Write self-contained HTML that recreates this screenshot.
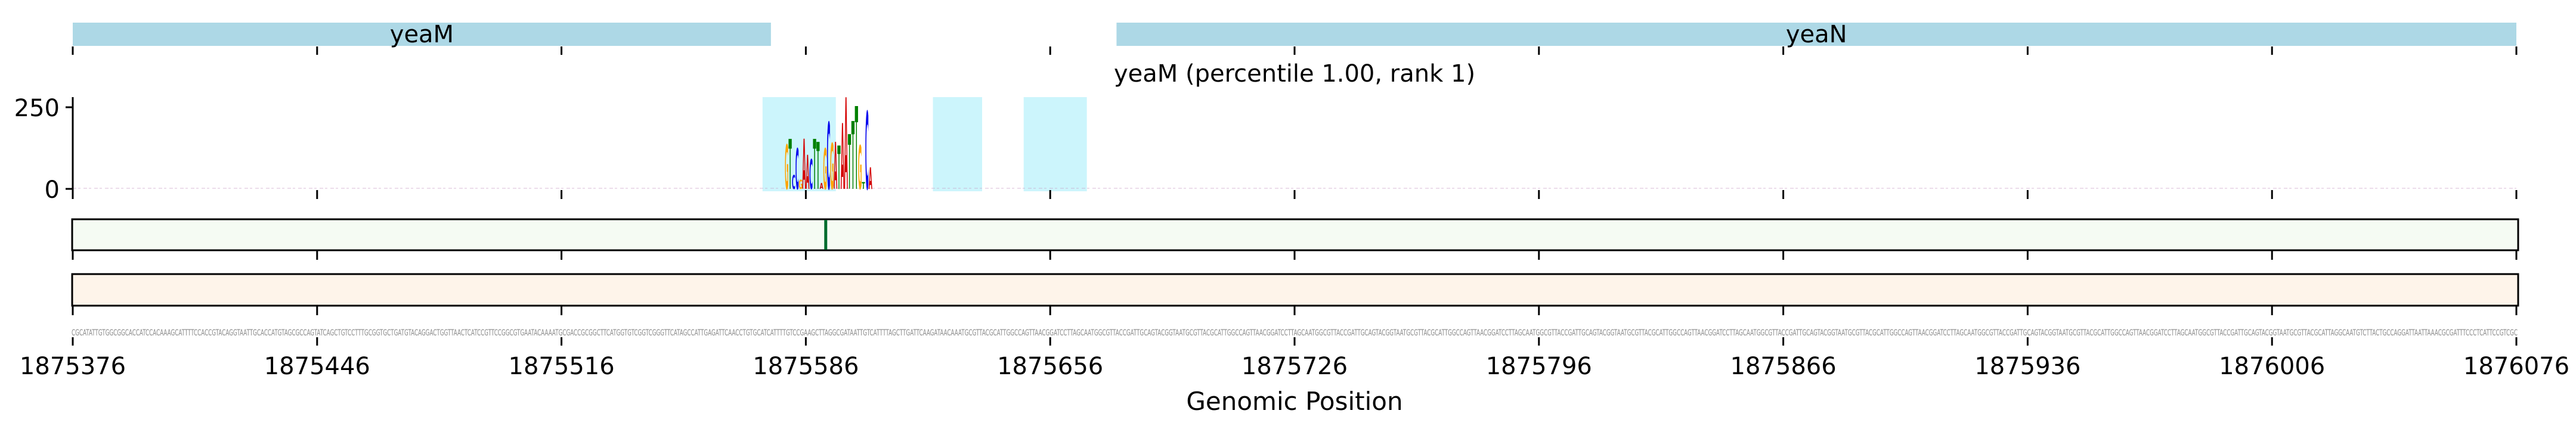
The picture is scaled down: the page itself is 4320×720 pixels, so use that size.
<!DOCTYPE html>
<html><head><meta charset="utf-8"><style>
html,body{margin:0;padding:0;background:#fff;}
svg{display:block;font-family:"DejaVu Sans","Liberation Sans",sans-serif;}
</style></head><body>
<svg id="chart" width="4320" height="720" viewBox="0 0 4320 720" xmlns="http://www.w3.org/2000/svg">
<g id="genes"></g>
<g id="logo"></g>
<g id="tracks"></g>
<g id="axes"></g>
</svg>
<script>
const startPos = 1875376;
const spanBp = 700;
const tickStep = 70;
const geneNames = ["yeaM", "yeaN"];
const geneStarts = [0, 299];
const geneEnds = [200, 700];
const highlightStarts = [197.6, 246.4, 272.4];
const highlightEnds = [218.6, 260.5, 290.5];
const logoPositions = [204,205,206,207,208,209,210,211,212,213,214,215,216,217,218,219,220,221,222,223,224,225,226,227,228];
const logoLetters = ["G","T","C","C","G","A","A","C","T","T","A","G","C","G","A","T","A","A","T","T","T","G","T","C","A"];
const logoHeights = [136,153,43,125,28,153,104,92,153,144,18,125,205,140,144,133,202,281,168,208,254,134,21,238,67];
const yTicks = [0, 250];
const yMax = 281;
const markerBp = 215.7;
const seqStart = "CGCATATTGTGGCGGCACCATCCACAAAGCATTTTCCACCGTACAGGTAATTGCACCATGTAGCGCCAGTATCAGCTGTCCTTTGCGGTGCTGATGTACAGGACTGGTTAACTCATCCGTTCCGGCGTGAATACAAAATGCGACCGCGGCTTCATGGTGTCGGTCGGGTTCATAGCCATTGAGATTCAACCTGTGCATCATTTTGTCCGAAGCTTAGGCGATAATTGTCATTTTAGCTTGATTCAAGATAACAA";
const seqEnd = "TAGGCAATGTCTTACTGCCAGGATTAATTAAACGCGATTTCCCTCATTCCGTCGC";

const NS="http://www.w3.org/2000/svg";
const X0=122, X1=4220;
const xs = bp => X0 + (X1-X0)*bp/spanBp;
const LOGO_TOP=163, LOGO_BASE=317;
const ys = v => LOGO_BASE - (LOGO_BASE-LOGO_TOP)*v/yMax;
function mk(tag, attrs, parent, txt){const e=document.createElementNS(NS,tag);for(const k in attrs)e.setAttribute(k,attrs[k]);if(txt!==undefined)e.textContent=txt;parent.appendChild(e);return e;}
const colors={A:"#d40000",C:"#0000ee",G:"#ffa500",T:"#008000"};

const gG=document.getElementById("genes");
geneNames.forEach((n,i)=>{
  const r=mk("rect",{x:xs(geneStarts[i]),y:38,width:xs(geneEnds[i])-xs(geneStarts[i]),height:39,fill:"#add8e6"},gG);
  
  
  const t=mk("text",{x:(xs(geneStarts[i])+xs(geneEnds[i]))/2,y:71,"font-size":40,"text-anchor":"middle",fill:"#000"},gG,n);
  
  
});

const ax=document.getElementById("axes");
function ticks(y1,y2){for(let b=0;b<=spanBp;b+=tickStep){const l=mk("line",{x1:xs(b),x2:xs(b),y1:y1,y2:y2,stroke:"#000","stroke-width":3},ax);}}
ticks(78,92);ticks(319,334);ticks(421,436);ticks(514,529);ticks(566,580);

const lg=document.getElementById("logo");
const title=mk("text",{x:(X0+X1)/2,y:137,"font-size":40,"text-anchor":"middle"},lg,"yeaM (percentile 1.00, rank 1)");


highlightStarts.forEach((s,i)=>{
  const r=mk("rect",{x:xs(s),y:LOGO_TOP,width:xs(highlightEnds[i])-xs(s),height:LOGO_BASE-LOGO_TOP+4,fill:"#ccf5fc"},lg);
  
  
});
const noise=mk("line",{x1:X0,x2:X1,y1:LOGO_BASE-1,y2:LOGO_BASE-1,stroke:"#c9a0c8","stroke-width":2,"stroke-dasharray":"6 3 4 5",opacity:0.35},lg);


const bw=xs(1)-xs(0);
logoPositions.forEach((p,i)=>{
  const h=ys(0)-ys(logoHeights[i]);
  const t=mk("text",{"font-size":100,"font-weight":"bold",fill:colors[logoLetters[i]],"text-anchor":"middle",
    transform:`translate(${xs(p)+bw/2},${LOGO_BASE}) scale(${bw*0.95/70},${h/73})`},lg,logoLetters[i]);
  
  
});
const ysp=mk("line",{x1:X0,x2:X0,y1:LOGO_TOP,y2:LOGO_BASE+2,stroke:"#000","stroke-width":3},lg);


yTicks.forEach(v=>{
  const l=mk("line",{x1:X0-12,x2:X0,y1:ys(v),y2:ys(v),stroke:"#000","stroke-width":3},lg);
  
  
  const t=mk("text",{x:X0-22,y:ys(v)+15,"font-size":40,"text-anchor":"end"},lg,String(v));
  
  
});

const tr=document.getElementById("tracks");
const b1=mk("rect",{x:X0-1,y:368,width:X1-X0+4,height:52,fill:"#f5fbf3",stroke:"#000","stroke-width":3},tr);


const m=mk("line",{x1:xs(markerBp),x2:xs(markerBp),y1:369,y2:419,stroke:"#006b2d","stroke-width":5},tr);


const b2=mk("rect",{x:X0-1,y:460,width:X1-X0+4,height:53,fill:"#fef4ea",stroke:"#000","stroke-width":3},tr);



let seq=seqStart;
const filler="ATGCGTTACGCATTGGCCAGTTAACGGATCCTTAGCAATGGCGTTACCGATTGCAGTACGGTA";
while(seq.length<spanBp-seqEnd.length) seq+=filler;
seq=seq.slice(0,spanBp-seqEnd.length)+seqEnd;
const st=mk("text",{x:X0-2,y:563,"font-size":14,fill:"#888",textLength:X1-X0+4,lengthAdjust:"spacingAndGlyphs"},tr,seq);



for(let b=0;b<=spanBp;b+=tickStep){
  const t=mk("text",{x:xs(b),y:628,"font-size":40,"text-anchor":"middle"},ax,String(startPos+b));
  
  
}
const xt=mk("text",{x:(X0+X1)/2,y:688,"font-size":42,"text-anchor":"middle"},ax,"Genomic Position");


</script>
</body></html>
